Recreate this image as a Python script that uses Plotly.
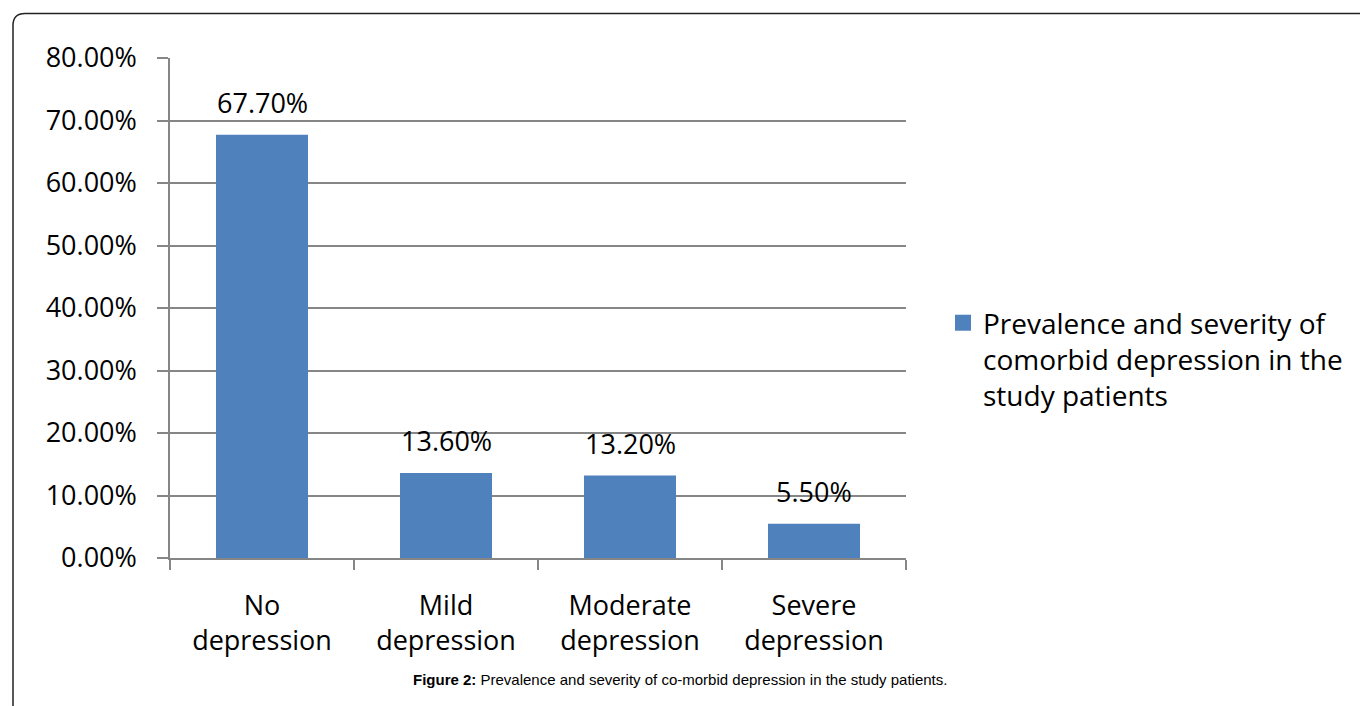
import plotly.graph_objects as go

categories = ["No<br>depression", "Mild<br>depression", "Moderate<br>depression", "Severe<br>depression"]
values = [0.677, 0.136, 0.132, 0.055]
series_name = "Prevalence and severity of<br>comorbid depression in the<br>study patients"
y_ticks = [0, 0.1, 0.2, 0.3, 0.4, 0.5, 0.6, 0.7, 0.8]
caption = "<b>Figure 2:</b> Prevalence and severity of co-morbid depression in the study patients."

BAR = "#4F81BD"
GRID = "#868686"
FONT = "Open Sans"

# plot area in pixels
L, R, T, B = 170, 906, 57.5, 558.5
W, H = 1360, 706

def px_x(p):
    return (p - L) / (R - L)

def px_y(p):
    return (B - p) / (B - T)

fig = go.Figure()
fig.add_trace(go.Bar(x=categories, y=values, marker=dict(color=BAR, line=dict(width=0)),
                     width=0.5, showlegend=False, hoverinfo="skip"))
fig.add_trace(go.Scatter(x=[None], y=[None], mode="markers", name=series_name,
                         marker=dict(symbol="square", size=18, color=BAR), showlegend=True))

for c, v in zip(categories, values):
    fig.add_annotation(x=c, y=v, text=f"{v*100:.2f}%", showarrow=False,
                       yanchor="bottom", yshift=12, font=dict(family=FONT, size=27, color="#000"))

fig.add_annotation(x=px_x(680), y=px_y(680), xref="paper", yref="paper", text=caption,
                   showarrow=False, xanchor="center", yanchor="middle",
                   font=dict(family="Liberation Sans", size=15, color="#000"))

# outer frame with rounded top-left corner
xl, xr = px_x(13), px_x(1362)
yt, yb = px_y(13), px_y(708)
xc, yc = px_x(25), px_y(25)
fig.add_shape(type="path", xref="paper", yref="paper",
              path=f"M {xl},{yb} L {xl},{yc} Q {xl},{yt} {xc},{yt} L {xr},{yt}",
              line=dict(color="#222", width=1.5))

fig.update_layout(
    width=W, height=H,
    margin=dict(l=L, r=W - R, t=T, b=H - B),
    paper_bgcolor="white", plot_bgcolor="white",
    font=dict(family=FONT, size=27, color="#000"),
    legend=dict(x=px_x(943), y=px_y(298), xanchor="left", yanchor="top",
                valign="top", font=dict(family=FONT, size=28, color="#000"),
                itemwidth=30, tracegroupgap=0),
    xaxis=dict(type="category", showgrid=False, showline=True, linecolor=GRID, linewidth=1.5,
               ticks="outside", tickson="boundaries", ticklen=10, tickcolor=GRID, tickwidth=1.5,
               ticklabelstandoff=23, tickfont=dict(family=FONT, size=27, color="#000")),
    yaxis=dict(range=[0, 0.8], tickvals=y_ticks, tickformat=".2%", showgrid=True, gridcolor=GRID,
               gridwidth=1.5, showline=True, linecolor=GRID, linewidth=1.5, zeroline=False,
               ticks="outside", ticklen=11, tickcolor=GRID, tickwidth=1.5,
               ticklabelstandoff=15, tickfont=dict(family=FONT, size=27, color="#000")),
)

fig.write_html("out.html", config={"displayModeBar": False},
               post_script="document.body.style.margin='0';")
